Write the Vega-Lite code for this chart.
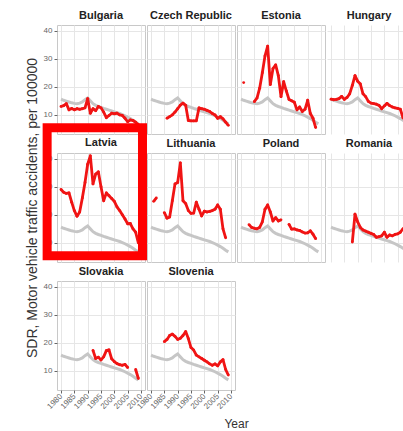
{
"$schema": "https://vega.github.io/schema/vega-lite/v6.json",
"autosize": {"type": "pad"},
"padding": {"left": 24, "top": 9, "right": 0, "bottom": 2},
"data": {"values": [
{"c":"EU","yr":1980,"v":15.6},{"c":"EU","yr":1981,"v":15.2},{"c":"EU","yr":1982,"v":14.9},{"c":"EU","yr":1983,"v":14.6},{"c":"EU","yr":1984,"v":14.3},{"c":"EU","yr":1985,"v":14.1},{"c":"EU","yr":1986,"v":14.0},{"c":"EU","yr":1987,"v":14.2},{"c":"EU","yr":1988,"v":14.6},{"c":"EU","yr":1989,"v":15.4},{"c":"EU","yr":1990,"v":16.0},{"c":"EU","yr":1991,"v":15.0},{"c":"EU","yr":1992,"v":14.0},{"c":"EU","yr":1993,"v":13.4},{"c":"EU","yr":1994,"v":13.0},{"c":"EU","yr":1995,"v":12.7},{"c":"EU","yr":1996,"v":12.3},{"c":"EU","yr":1997,"v":12.0},{"c":"EU","yr":1998,"v":11.7},{"c":"EU","yr":1999,"v":11.4},{"c":"EU","yr":2000,"v":11.1},{"c":"EU","yr":2001,"v":10.8},{"c":"EU","yr":2002,"v":10.5},{"c":"EU","yr":2003,"v":10.1},{"c":"EU","yr":2004,"v":9.7},{"c":"EU","yr":2005,"v":9.2},{"c":"EU","yr":2006,"v":8.7},{"c":"EU","yr":2007,"v":8.1},{"c":"EU","yr":2008,"v":7.4},{"c":"EU","yr":2009,"v":6.8},
{"c":"Bulgaria","yr":1980,"v":13.0},{"c":"Bulgaria","yr":1981,"v":13.3},{"c":"Bulgaria","yr":1982,"v":14.0},{"c":"Bulgaria","yr":1983,"v":11.8},{"c":"Bulgaria","yr":1984,"v":12.3},{"c":"Bulgaria","yr":1985,"v":11.8},{"c":"Bulgaria","yr":1986,"v":12.2},{"c":"Bulgaria","yr":1987,"v":12.0},{"c":"Bulgaria","yr":1988,"v":12.2},{"c":"Bulgaria","yr":1989,"v":12.5},{"c":"Bulgaria","yr":1990,"v":15.8},{"c":"Bulgaria","yr":1991,"v":10.6},{"c":"Bulgaria","yr":1992,"v":12.2},{"c":"Bulgaria","yr":1993,"v":11.5},{"c":"Bulgaria","yr":1994,"v":13.0},{"c":"Bulgaria","yr":1995,"v":12.5},{"c":"Bulgaria","yr":1996,"v":11.0},{"c":"Bulgaria","yr":1997,"v":9.0},{"c":"Bulgaria","yr":1998,"v":9.8},{"c":"Bulgaria","yr":1999,"v":10.6},{"c":"Bulgaria","yr":2000,"v":10.4},{"c":"Bulgaria","yr":2001,"v":10.6},{"c":"Bulgaria","yr":2002,"v":10.0},{"c":"Bulgaria","yr":2003,"v":9.8},{"c":"Bulgaria","yr":2004,"v":8.8},{"c":"Bulgaria","yr":2005,"v":7.6},{"c":"Bulgaria","yr":2006,"v":8.2},{"c":"Bulgaria","yr":2007,"v":8.0},{"c":"Bulgaria","yr":2008,"v":7.4},{"c":"Bulgaria","yr":2009,"v":6.5},
{"c":"Czech Republic","yr":1986,"v":8.8},{"c":"Czech Republic","yr":1987,"v":9.4},{"c":"Czech Republic","yr":1988,"v":10.0},{"c":"Czech Republic","yr":1989,"v":11.0},{"c":"Czech Republic","yr":1990,"v":12.2},{"c":"Czech Republic","yr":1991,"v":13.5},{"c":"Czech Republic","yr":1992,"v":14.2},{"c":"Czech Republic","yr":1993,"v":13.4},{"c":"Czech Republic","yr":1994,"v":8.0},{"c":"Czech Republic","yr":1995,"v":7.9},{"c":"Czech Republic","yr":1996,"v":7.9},{"c":"Czech Republic","yr":1997,"v":7.9},{"c":"Czech Republic","yr":1998,"v":12.5},{"c":"Czech Republic","yr":1999,"v":12.2},{"c":"Czech Republic","yr":2000,"v":12.0},{"c":"Czech Republic","yr":2001,"v":11.6},{"c":"Czech Republic","yr":2002,"v":11.2},{"c":"Czech Republic","yr":2003,"v":10.5},{"c":"Czech Republic","yr":2004,"v":10.0},{"c":"Czech Republic","yr":2005,"v":8.8},{"c":"Czech Republic","yr":2006,"v":9.4},{"c":"Czech Republic","yr":2007,"v":8.6},{"c":"Czech Republic","yr":2008,"v":7.4},{"c":"Czech Republic","yr":2009,"v":6.3},
{"c":"Estonia","yr":1981,"v":21.5},{"c":"Estonia","yr":1982,"v":null},{"c":"Estonia","yr":1983,"v":null},{"c":"Estonia","yr":1984,"v":null},{"c":"Estonia","yr":1985,"v":14.7},{"c":"Estonia","yr":1986,"v":16.0},{"c":"Estonia","yr":1987,"v":19.5},{"c":"Estonia","yr":1988,"v":25.0},{"c":"Estonia","yr":1989,"v":31.0},{"c":"Estonia","yr":1990,"v":34.5},{"c":"Estonia","yr":1991,"v":20.8},{"c":"Estonia","yr":1992,"v":26.5},{"c":"Estonia","yr":1993,"v":27.8},{"c":"Estonia","yr":1994,"v":24.0},{"c":"Estonia","yr":1995,"v":16.5},{"c":"Estonia","yr":1996,"v":21.8},{"c":"Estonia","yr":1997,"v":18.5},{"c":"Estonia","yr":1998,"v":15.5},{"c":"Estonia","yr":1999,"v":15.0},{"c":"Estonia","yr":2000,"v":14.5},{"c":"Estonia","yr":2001,"v":11.8},{"c":"Estonia","yr":2002,"v":12.8},{"c":"Estonia","yr":2003,"v":11.2},{"c":"Estonia","yr":2004,"v":12.0},{"c":"Estonia","yr":2005,"v":15.2},{"c":"Estonia","yr":2006,"v":10.5},{"c":"Estonia","yr":2007,"v":8.8},{"c":"Estonia","yr":2008,"v":5.5},
{"c":"Hungary","yr":1980,"v":15.6},{"c":"Hungary","yr":1981,"v":15.4},{"c":"Hungary","yr":1982,"v":15.5},{"c":"Hungary","yr":1983,"v":15.8},{"c":"Hungary","yr":1984,"v":16.6},{"c":"Hungary","yr":1985,"v":15.5},{"c":"Hungary","yr":1986,"v":16.2},{"c":"Hungary","yr":1987,"v":17.5},{"c":"Hungary","yr":1988,"v":20.5},{"c":"Hungary","yr":1989,"v":24.0},{"c":"Hungary","yr":1990,"v":22.0},{"c":"Hungary","yr":1991,"v":21.0},{"c":"Hungary","yr":1992,"v":17.5},{"c":"Hungary","yr":1993,"v":16.5},{"c":"Hungary","yr":1994,"v":14.8},{"c":"Hungary","yr":1995,"v":14.2},{"c":"Hungary","yr":1996,"v":14.0},{"c":"Hungary","yr":1997,"v":13.8},{"c":"Hungary","yr":1998,"v":13.4},{"c":"Hungary","yr":1999,"v":12.2},{"c":"Hungary","yr":2000,"v":13.2},{"c":"Hungary","yr":2001,"v":14.1},{"c":"Hungary","yr":2002,"v":13.3},{"c":"Hungary","yr":2003,"v":12.8},{"c":"Hungary","yr":2004,"v":12.5},{"c":"Hungary","yr":2005,"v":12.3},{"c":"Hungary","yr":2006,"v":12.0},{"c":"Hungary","yr":2007,"v":9.0},{"c":"Hungary","yr":2008,"v":8.0},{"c":"Hungary","yr":2009,"v":7.0},
{"c":"Latvia","yr":1980,"v":29.0},{"c":"Latvia","yr":1981,"v":28.0},{"c":"Latvia","yr":1982,"v":27.6},{"c":"Latvia","yr":1983,"v":27.8},{"c":"Latvia","yr":1984,"v":24.5},{"c":"Latvia","yr":1985,"v":21.5},{"c":"Latvia","yr":1986,"v":19.5},{"c":"Latvia","yr":1987,"v":21.0},{"c":"Latvia","yr":1988,"v":26.0},{"c":"Latvia","yr":1989,"v":31.5},{"c":"Latvia","yr":1990,"v":38.0},{"c":"Latvia","yr":1991,"v":41.0},{"c":"Latvia","yr":1992,"v":31.0},{"c":"Latvia","yr":1993,"v":34.5},{"c":"Latvia","yr":1994,"v":35.3},{"c":"Latvia","yr":1995,"v":30.0},{"c":"Latvia","yr":1996,"v":25.0},{"c":"Latvia","yr":1997,"v":27.8},{"c":"Latvia","yr":1998,"v":26.8},{"c":"Latvia","yr":1999,"v":25.8},{"c":"Latvia","yr":2000,"v":24.8},{"c":"Latvia","yr":2001,"v":22.8},{"c":"Latvia","yr":2002,"v":21.5},{"c":"Latvia","yr":2003,"v":20.0},{"c":"Latvia","yr":2004,"v":18.5},{"c":"Latvia","yr":2005,"v":16.8},{"c":"Latvia","yr":2006,"v":16.9},{"c":"Latvia","yr":2007,"v":15.0},{"c":"Latvia","yr":2008,"v":13.8},{"c":"Latvia","yr":2009,"v":10.0},
{"c":"Lithuania","yr":1981,"v":24.8},{"c":"Lithuania","yr":1982,"v":26.0},{"c":"Lithuania","yr":1983,"v":null},{"c":"Lithuania","yr":1984,"v":null},{"c":"Lithuania","yr":1985,"v":20.8},{"c":"Lithuania","yr":1986,"v":18.8},{"c":"Lithuania","yr":1987,"v":19.2},{"c":"Lithuania","yr":1988,"v":25.0},{"c":"Lithuania","yr":1989,"v":31.0},{"c":"Lithuania","yr":1990,"v":31.5},{"c":"Lithuania","yr":1991,"v":38.5},{"c":"Lithuania","yr":1992,"v":25.0},{"c":"Lithuania","yr":1993,"v":24.0},{"c":"Lithuania","yr":1994,"v":21.5},{"c":"Lithuania","yr":1995,"v":20.5},{"c":"Lithuania","yr":1996,"v":20.6},{"c":"Lithuania","yr":1997,"v":24.5},{"c":"Lithuania","yr":1998,"v":22.0},{"c":"Lithuania","yr":1999,"v":19.6},{"c":"Lithuania","yr":2000,"v":21.3},{"c":"Lithuania","yr":2001,"v":21.0},{"c":"Lithuania","yr":2002,"v":21.2},{"c":"Lithuania","yr":2003,"v":21.5},{"c":"Lithuania","yr":2004,"v":22.0},{"c":"Lithuania","yr":2005,"v":23.5},{"c":"Lithuania","yr":2006,"v":22.0},{"c":"Lithuania","yr":2007,"v":15.0},{"c":"Lithuania","yr":2008,"v":11.8},
{"c":"Poland","yr":1983,"v":16.5},{"c":"Poland","yr":1984,"v":15.5},{"c":"Poland","yr":1985,"v":15.2},{"c":"Poland","yr":1986,"v":15.0},{"c":"Poland","yr":1987,"v":15.5},{"c":"Poland","yr":1988,"v":17.5},{"c":"Poland","yr":1989,"v":22.0},{"c":"Poland","yr":1990,"v":23.5},{"c":"Poland","yr":1991,"v":21.0},{"c":"Poland","yr":1992,"v":17.8},{"c":"Poland","yr":1993,"v":19.0},{"c":"Poland","yr":1994,"v":17.8},{"c":"Poland","yr":1995,"v":18.2},{"c":"Poland","yr":1996,"v":null},{"c":"Poland","yr":1997,"v":null},{"c":"Poland","yr":1998,"v":16.6},{"c":"Poland","yr":1999,"v":14.9},{"c":"Poland","yr":2000,"v":15.0},{"c":"Poland","yr":2001,"v":14.6},{"c":"Poland","yr":2002,"v":14.4},{"c":"Poland","yr":2003,"v":13.9},{"c":"Poland","yr":2004,"v":13.5},{"c":"Poland","yr":2005,"v":13.6},{"c":"Poland","yr":2006,"v":14.3},{"c":"Poland","yr":2007,"v":13.1},{"c":"Poland","yr":2008,"v":11.5},
{"c":"Romania","yr":1988,"v":10.3},{"c":"Romania","yr":1989,"v":20.2},{"c":"Romania","yr":1990,"v":17.5},{"c":"Romania","yr":1991,"v":15.5},{"c":"Romania","yr":1992,"v":14.6},{"c":"Romania","yr":1993,"v":14.2},{"c":"Romania","yr":1994,"v":13.8},{"c":"Romania","yr":1995,"v":13.4},{"c":"Romania","yr":1996,"v":13.0},{"c":"Romania","yr":1997,"v":12.0},{"c":"Romania","yr":1998,"v":12.2},{"c":"Romania","yr":1999,"v":12.5},{"c":"Romania","yr":2000,"v":13.8},{"c":"Romania","yr":2001,"v":12.0},{"c":"Romania","yr":2002,"v":12.8},{"c":"Romania","yr":2003,"v":12.5},{"c":"Romania","yr":2004,"v":13.0},{"c":"Romania","yr":2005,"v":13.2},{"c":"Romania","yr":2006,"v":13.8},{"c":"Romania","yr":2007,"v":15.0},{"c":"Romania","yr":2008,"v":15.5},{"c":"Romania","yr":2009,"v":14.0},
{"c":"Slovakia","yr":1992,"v":17.3},{"c":"Slovakia","yr":1993,"v":14.4},{"c":"Slovakia","yr":1994,"v":14.9},{"c":"Slovakia","yr":1995,"v":13.9},{"c":"Slovakia","yr":1996,"v":15.0},{"c":"Slovakia","yr":1997,"v":17.2},{"c":"Slovakia","yr":1998,"v":17.5},{"c":"Slovakia","yr":1999,"v":14.3},{"c":"Slovakia","yr":2000,"v":13.3},{"c":"Slovakia","yr":2001,"v":12.6},{"c":"Slovakia","yr":2002,"v":12.2},{"c":"Slovakia","yr":2003,"v":12.0},{"c":"Slovakia","yr":2004,"v":12.3},{"c":"Slovakia","yr":2005,"v":11.2},{"c":"Slovakia","yr":2006,"v":null},{"c":"Slovakia","yr":2007,"v":null},{"c":"Slovakia","yr":2008,"v":10.5},{"c":"Slovakia","yr":2009,"v":7.3},
{"c":"Slovenia","yr":1985,"v":20.4},{"c":"Slovenia","yr":1986,"v":21.2},{"c":"Slovenia","yr":1987,"v":22.6},{"c":"Slovenia","yr":1988,"v":23.1},{"c":"Slovenia","yr":1989,"v":22.3},{"c":"Slovenia","yr":1990,"v":21.2},{"c":"Slovenia","yr":1991,"v":21.6},{"c":"Slovenia","yr":1992,"v":22.6},{"c":"Slovenia","yr":1993,"v":24.0},{"c":"Slovenia","yr":1994,"v":21.5},{"c":"Slovenia","yr":1995,"v":18.3},{"c":"Slovenia","yr":1996,"v":17.4},{"c":"Slovenia","yr":1997,"v":15.6},{"c":"Slovenia","yr":1998,"v":15.0},{"c":"Slovenia","yr":1999,"v":14.4},{"c":"Slovenia","yr":2000,"v":13.8},{"c":"Slovenia","yr":2001,"v":13.2},{"c":"Slovenia","yr":2002,"v":12.5},{"c":"Slovenia","yr":2003,"v":12.0},{"c":"Slovenia","yr":2004,"v":12.5},{"c":"Slovenia","yr":2005,"v":11.8},{"c":"Slovenia","yr":2006,"v":13.2},{"c":"Slovenia","yr":2007,"v":14.0},{"c":"Slovenia","yr":2008,"v":10.5},{"c":"Slovenia","yr":2009,"v":8.5}
]},
"columns": 4,
"spacing": {"row": 19, "column": 2},
"bounds": "flush",
"concat": [
 {"width": 88, "height": 109, "title": {"text": "Bulgaria"},
  "encoding": {"x": {"field": "yr", "type": "quantitative", "scale": {"domain": [1978.5, 2011.5], "nice": false, "zero": false}, "axis": {"values": [1980,1985,1990,1995,2000,2005,2010], "labels": false, "ticks": false, "title": null}},
               "y": {"field": "v", "type": "quantitative", "scale": {"domain": [3.2, 42], "nice": false, "zero": false}, "axis": {"values": [10,20,30,40], "title": null}}},
  "layer": [
   {"transform": [{"filter": "datum.c === 'EU'"}], "mark": {"type": "line", "color": "#c6c6c6", "strokeWidth": 3, "invalid": "break-paths-filter-domains"}, "encoding": {}},
   {"transform": [{"filter": "datum.c === 'Bulgaria'"}], "mark": {"type": "line", "color": "#f01414", "strokeWidth": 2.8, "strokeJoin": "round", "invalid": "break-paths-filter-domains"}, "encoding": {}},
   {"transform": [{"filter": "datum.c === 'Bulgaria' && isValid(datum.v)"}], "mark": {"type": "circle", "color": "#f01414", "size": 8, "opacity": 1}, "encoding": {}}
  ]},
 {"width": 88, "height": 109, "title": {"text": "Czech Republic"},
  "encoding": {"x": {"field": "yr", "type": "quantitative", "scale": {"domain": [1978.5, 2011.5], "nice": false, "zero": false}, "axis": {"values": [1980,1985,1990,1995,2000,2005,2010], "labels": false, "ticks": false, "title": null}},
               "y": {"field": "v", "type": "quantitative", "scale": {"domain": [3.2, 42], "nice": false, "zero": false}, "axis": {"values": [10,20,30,40], "labels": false, "ticks": false, "title": null}}},
  "layer": [
   {"transform": [{"filter": "datum.c === 'EU'"}], "mark": {"type": "line", "color": "#c6c6c6", "strokeWidth": 3, "invalid": "break-paths-filter-domains"}, "encoding": {}},
   {"transform": [{"filter": "datum.c === 'Czech Republic'"}], "mark": {"type": "line", "color": "#f01414", "strokeWidth": 2.8, "strokeJoin": "round", "invalid": "break-paths-filter-domains"}, "encoding": {}},
   {"transform": [{"filter": "datum.c === 'Czech Republic' && isValid(datum.v)"}], "mark": {"type": "circle", "color": "#f01414", "size": 8, "opacity": 1}, "encoding": {}}
  ]},
 {"width": 88, "height": 109, "title": {"text": "Estonia"},
  "encoding": {"x": {"field": "yr", "type": "quantitative", "scale": {"domain": [1978.5, 2011.5], "nice": false, "zero": false}, "axis": {"values": [1980,1985,1990,1995,2000,2005,2010], "labels": false, "ticks": false, "title": null}},
               "y": {"field": "v", "type": "quantitative", "scale": {"domain": [3.2, 42], "nice": false, "zero": false}, "axis": {"values": [10,20,30,40], "labels": false, "ticks": false, "title": null}}},
  "layer": [
   {"transform": [{"filter": "datum.c === 'EU'"}], "mark": {"type": "line", "color": "#c6c6c6", "strokeWidth": 3, "invalid": "break-paths-filter-domains"}, "encoding": {}},
   {"transform": [{"filter": "datum.c === 'Estonia'"}], "mark": {"type": "line", "color": "#f01414", "strokeWidth": 2.8, "strokeJoin": "round", "invalid": "break-paths-filter-domains"}, "encoding": {}},
   {"transform": [{"filter": "datum.c === 'Estonia' && isValid(datum.v)"}], "mark": {"type": "circle", "color": "#f01414", "size": 8, "opacity": 1}, "encoding": {}}
  ]},
 {"width": 76, "height": 109, "title": {"text": "Hungary", "dx": 4}, "view": {"stroke": null},
  "encoding": {"x": {"field": "yr", "type": "quantitative", "scale": {"domain": [1978.5, 2007.0], "nice": false, "zero": false}, "axis": {"values": [1980,1985,1990,1995,2000,2005], "labels": false, "ticks": false, "title": null}},
               "y": {"field": "v", "type": "quantitative", "scale": {"domain": [3.2, 42], "nice": false, "zero": false}, "axis": {"values": [10,20,30,40], "labels": false, "ticks": false, "title": null}}},
  "layer": [
   {"transform": [{"filter": "datum.c === 'EU'"}], "mark": {"type": "line", "color": "#c6c6c6", "strokeWidth": 3, "clip": true, "invalid": "break-paths-filter-domains"}, "encoding": {}},
   {"transform": [{"filter": "datum.c === 'Hungary'"}], "mark": {"type": "line", "color": "#f01414", "strokeWidth": 2.8, "strokeJoin": "round", "clip": true, "invalid": "break-paths-filter-domains"}, "encoding": {}},
   {"transform": [{"filter": "datum.c === 'Hungary' && isValid(datum.v)"}], "mark": {"type": "circle", "color": "#f01414", "size": 8, "opacity": 1, "clip": true}, "encoding": {}}
  ]},
 {"width": 88, "height": 109, "title": {"text": "Latvia", "dy": 95},
  "encoding": {"x": {"field": "yr", "type": "quantitative", "scale": {"domain": [1978.5, 2011.5], "nice": false, "zero": false}, "axis": {"values": [1980,1985,1990,1995,2000,2005,2010], "labels": false, "ticks": false, "title": null}},
               "y": {"field": "v", "type": "quantitative", "scale": {"domain": [3.2, 42], "nice": false, "zero": false}, "axis": {"values": [10,20,30,40], "title": "SDR, Motor vehicle traffic accidents, per 100000", "titleFontSize": 14, "titleFontWeight": "normal", "titleColor": "#333333", "titlePadding": 4}}},
  "layer": [
   {"transform": [{"filter": "datum.c === 'EU'"}], "mark": {"type": "line", "color": "#c6c6c6", "strokeWidth": 3, "invalid": "break-paths-filter-domains"}, "encoding": {}},
   {"transform": [{"filter": "datum.c === 'Latvia'"}], "mark": {"type": "line", "color": "#f01414", "strokeWidth": 2.8, "strokeJoin": "round", "invalid": "break-paths-filter-domains"}, "encoding": {}},
   {"transform": [{"filter": "datum.c === 'Latvia' && isValid(datum.v)"}], "mark": {"type": "circle", "color": "#f01414", "size": 8, "opacity": 1}, "encoding": {}},
   {"transform": [{"filter": "datum.c === 'Latvia' && datum.yr === 1980"}], "mark": {"type": "rect", "filled": false, "color": "#ff0000", "stroke": "#ff0000", "strokeWidth": 9, "strokeOpacity": 1, "clip": false},
    "encoding": {"x": {"datum": 1974.8}, "x2": {"datum": 2010.56}, "y": {"datum": 50.97}, "y2": {"datum": 5.4}}}
  ]},
 {"width": 88, "height": 109, "title": {"text": "Lithuania"},
  "encoding": {"x": {"field": "yr", "type": "quantitative", "scale": {"domain": [1978.5, 2011.5], "nice": false, "zero": false}, "axis": {"values": [1980,1985,1990,1995,2000,2005,2010], "labels": false, "ticks": false, "title": null}},
               "y": {"field": "v", "type": "quantitative", "scale": {"domain": [3.2, 42], "nice": false, "zero": false}, "axis": {"values": [10,20,30,40], "labels": false, "ticks": false, "title": null}}},
  "layer": [
   {"transform": [{"filter": "datum.c === 'EU'"}], "mark": {"type": "line", "color": "#c6c6c6", "strokeWidth": 3, "invalid": "break-paths-filter-domains"}, "encoding": {}},
   {"transform": [{"filter": "datum.c === 'Lithuania'"}], "mark": {"type": "line", "color": "#f01414", "strokeWidth": 2.8, "strokeJoin": "round", "invalid": "break-paths-filter-domains"}, "encoding": {}},
   {"transform": [{"filter": "datum.c === 'Lithuania' && isValid(datum.v)"}], "mark": {"type": "circle", "color": "#f01414", "size": 8, "opacity": 1}, "encoding": {}}
  ]},
 {"width": 88, "height": 109, "title": {"text": "Poland"},
  "encoding": {"x": {"field": "yr", "type": "quantitative", "scale": {"domain": [1978.5, 2011.5], "nice": false, "zero": false}, "axis": {"values": [1980,1985,1990,1995,2000,2005,2010], "labels": false, "ticks": false, "title": null}},
               "y": {"field": "v", "type": "quantitative", "scale": {"domain": [3.2, 42], "nice": false, "zero": false}, "axis": {"values": [10,20,30,40], "labels": false, "ticks": false, "title": null}}},
  "layer": [
   {"transform": [{"filter": "datum.c === 'EU'"}], "mark": {"type": "line", "color": "#c6c6c6", "strokeWidth": 3, "invalid": "break-paths-filter-domains"}, "encoding": {}},
   {"transform": [{"filter": "datum.c === 'Poland'"}], "mark": {"type": "line", "color": "#f01414", "strokeWidth": 2.8, "strokeJoin": "round", "invalid": "break-paths-filter-domains"}, "encoding": {}},
   {"transform": [{"filter": "datum.c === 'Poland' && isValid(datum.v)"}], "mark": {"type": "circle", "color": "#f01414", "size": 8, "opacity": 1}, "encoding": {}}
  ]},
 {"width": 76, "height": 109, "title": {"text": "Romania", "dx": 4}, "view": {"stroke": null},
  "encoding": {"x": {"field": "yr", "type": "quantitative", "scale": {"domain": [1978.5, 2007.0], "nice": false, "zero": false}, "axis": {"values": [1980,1985,1990,1995,2000,2005], "labels": false, "ticks": false, "title": null}},
               "y": {"field": "v", "type": "quantitative", "scale": {"domain": [3.2, 42], "nice": false, "zero": false}, "axis": {"values": [10,20,30,40], "labels": false, "ticks": false, "title": null}}},
  "layer": [
   {"transform": [{"filter": "datum.c === 'EU'"}], "mark": {"type": "line", "color": "#c6c6c6", "strokeWidth": 3, "clip": true, "invalid": "break-paths-filter-domains"}, "encoding": {}},
   {"transform": [{"filter": "datum.c === 'Romania'"}], "mark": {"type": "line", "color": "#f01414", "strokeWidth": 2.8, "strokeJoin": "round", "clip": true, "invalid": "break-paths-filter-domains"}, "encoding": {}},
   {"transform": [{"filter": "datum.c === 'Romania' && isValid(datum.v)"}], "mark": {"type": "circle", "color": "#f01414", "size": 8, "opacity": 1, "clip": true}, "encoding": {}}
  ]},
 {"width": 88, "height": 109, "title": {"text": "Slovakia"},
  "encoding": {"x": {"field": "yr", "type": "quantitative", "scale": {"domain": [1978.5, 2011.5], "nice": false, "zero": false}, "axis": {"values": [1980,1985,1990,1995,2000,2005,2010], "format": "d", "labelAngle": -45, "labelAlign": "right", "labelBaseline": "middle", "labelOverlap": false, "title": null}},
               "y": {"field": "v", "type": "quantitative", "scale": {"domain": [3.2, 42], "nice": false, "zero": false}, "axis": {"values": [10,20,30,40], "title": null}}},
  "layer": [
   {"transform": [{"filter": "datum.c === 'EU'"}], "mark": {"type": "line", "color": "#c6c6c6", "strokeWidth": 3, "invalid": "break-paths-filter-domains"}, "encoding": {}},
   {"transform": [{"filter": "datum.c === 'Slovakia'"}], "mark": {"type": "line", "color": "#f01414", "strokeWidth": 2.8, "strokeJoin": "round", "invalid": "break-paths-filter-domains"}, "encoding": {}},
   {"transform": [{"filter": "datum.c === 'Slovakia' && isValid(datum.v)"}], "mark": {"type": "circle", "color": "#f01414", "size": 8, "opacity": 1}, "encoding": {}}
  ]},
 {"width": 88, "height": 109, "title": {"text": "Slovenia"},
  "encoding": {"x": {"field": "yr", "type": "quantitative", "scale": {"domain": [1978.5, 2011.5], "nice": false, "zero": false}, "axis": {"values": [1980,1985,1990,1995,2000,2005,2010], "format": "d", "labelAngle": -45, "labelAlign": "right", "labelBaseline": "middle", "labelOverlap": false, "title": "Year", "titleX": 89, "titleY": 28, "titleAlign": "center", "titleBaseline": "top", "titleFontSize": 12, "titleFontWeight": "normal", "titleColor": "#333333"}},
               "y": {"field": "v", "type": "quantitative", "scale": {"domain": [3.2, 42], "nice": false, "zero": false}, "axis": {"values": [10,20,30,40], "labels": false, "ticks": false, "title": null}}},
  "layer": [
   {"transform": [{"filter": "datum.c === 'EU'"}], "mark": {"type": "line", "color": "#c6c6c6", "strokeWidth": 3, "invalid": "break-paths-filter-domains"}, "encoding": {}},
   {"transform": [{"filter": "datum.c === 'Slovenia'"}], "mark": {"type": "line", "color": "#f01414", "strokeWidth": 2.8, "strokeJoin": "round", "invalid": "break-paths-filter-domains"}, "encoding": {}},
   {"transform": [{"filter": "datum.c === 'Slovenia' && isValid(datum.v)"}], "mark": {"type": "circle", "color": "#f01414", "size": 8, "opacity": 1}, "encoding": {}}
  ]}
],
"config": {
 "font": "Liberation Sans",
 "view": {"stroke": "#c8c8c8", "strokeWidth": 1},
 "axis": {"domain": false, "grid": true, "gridColor": "#e6e6e6", "gridWidth": 1, "labelFont": "Liberation Sans", "labelFontSize": 8, "labelColor": "#666666", "tickColor": "#666666", "tickSize": 3, "labelPadding": 2, "titleFont": "Liberation Sans"},
 "title": {"font": "Liberation Sans", "fontSize": 11, "fontWeight": "bold", "color": "#222222", "anchor": "middle", "offset": 4}
}
}
